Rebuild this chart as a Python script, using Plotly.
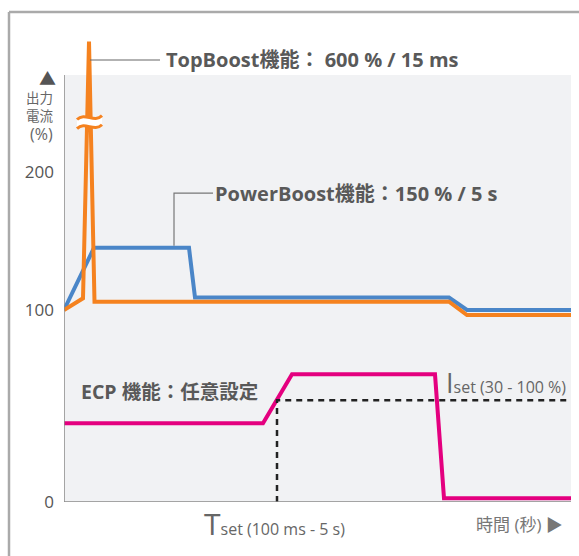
import plotly.graph_objects as go

# ---- data (values in %; time axis is schematic, arbitrary units) ----
pb_t = [0, 30, 125, 131, 385, 403, 507]
pb_v = [100, 145, 145, 109, 109, 100, 100]

tb_t = [0, 19, 25, 30.5, 385, 403, 507]
tb_v = [100, 108.5, 600, 106, 106, 97.4, 97.4]

ecp_t = [0, 199, 228, 371, 380, 507]
ecp_v = [41, 41, 66.5, 66.5, 2, 2]

iset_t = [213, 213, 507]
iset_v = [0, 53, 53]

y_tick_vals = [0, 100, 200]
y_tick_text = ["0", "100", "200"]


# ---- broken y scale (schematic, as in the original) ----
def ys(v):
    if v <= 100:
        return v
    if v <= 236:
        return 100 + (v - 100) * 0.719
    return 197.8 + (v - 236) * 0.1154


def ymap(vals):
    return [ys(v) for v in vals]


# page-pixel -> paper helpers (plot area: x 64..571, y 12..502)
def px(x):
    return (x - 64) / 507.0


def py(y):
    return (502 - y) / 490.0


FONT = "'Open Sans', 'Noto Sans CJK JP', sans-serif"
TXT = "#595959"

fig = go.Figure()
fig.add_trace(go.Scatter(x=pb_t, y=ymap(pb_v), mode="lines",
                         line=dict(color="#4a86c8", width=4), hoverinfo="skip"))
fig.add_trace(go.Scatter(x=tb_t, y=ymap(tb_v), mode="lines",
                         line=dict(color="#f5821f", width=4), hoverinfo="skip"))
fig.add_trace(go.Scatter(x=ecp_t, y=ymap(ecp_v), mode="lines",
                         line=dict(color="#e4007f", width=4), hoverinfo="skip"))
fig.add_trace(go.Scatter(x=iset_t, y=ymap(iset_v), mode="lines",
                         line=dict(color="#222222", width=2.5, dash="6px,5px"),
                         hoverinfo="skip"))

shapes = []
shapes.append(dict(type="rect", xref="x", yref="y", x0=0, x1=507, y0=0, y1=222.4,
                   fillcolor="#f1f2f4", line=dict(width=0), layer="below"))
shapes.append(dict(type="line", xref="x", yref="y", x0=0, x1=0, y0=0, y1=222.4,
                   line=dict(color="#8a8a8a", width=1.5)))
shapes.append(dict(type="line", xref="x", yref="y", x0=0, x1=507, y0=0, y1=0,
                   line=dict(color="#8a8a8a", width=1.5)))
shapes.append(dict(type="line", xref="paper", yref="paper", x0=px(9), x1=px(9),
                   y0=py(12), y1=py(570), line=dict(color="#aaaaaa", width=2.5)))
shapes.append(dict(type="line", xref="paper", yref="paper", x0=px(9), x1=px(590),
                   y0=py(12), y1=py(12), line=dict(color="#aaaaaa", width=2.5)))
# break mark on spike
shapes.append(dict(type="path", xref="x", yref="y",
                   path="M 13,199.3 C 21,203.3 30,197.3 38,201.3 L 38,196.6 C 30,192.6 21,198.6 13,194.6 Z",
                   fillcolor="white", line=dict(width=0)))
for yy in (200.2, 195.5):
    shapes.append(dict(type="path", xref="x", yref="y",
                       path=f"M 13,{yy-1} C 21,{yy+3} 30,{yy-3} 38,{yy+1}",
                       line=dict(color="#f5821f", width=3)))
# leader lines
shapes.append(dict(type="line", xref="x", yref="y", x0=26, x1=96, y0=230.2, y1=230.2,
                   line=dict(color="#666666", width=1.2)))
shapes.append(dict(type="path", xref="x", yref="y",
                   path="M 110,133.5 L 110,160.9 L 149,160.9",
                   line=dict(color="#777777", width=1.2)))

ann = []
ann.append(dict(x=px(164), y=py(60), text="<b>TopBoost機能： 600 % / 15 ms</b>",
                xanchor="left", yanchor="middle", font=dict(size=20, color=TXT)))
ann.append(dict(x=px(213), y=py(193), text="<b>PowerBoost機能：150 % / 5 s</b>",
                xanchor="left", yanchor="middle", font=dict(size=20, color=TXT)))
ann.append(dict(x=px(79), y=py(391), text="<b>ECP 機能：任意設定</b>",
                xanchor="left", yanchor="middle", font=dict(size=19.5, color=TXT)))
ann.append(dict(x=px(444), y=py(382),
                text="<span style='font-size:27px'>I</span>set (30 - 100 %)",
                xanchor="left", yanchor="middle", font=dict(size=16, color="#666666")))
ann.append(dict(x=px(202), y=py(523),
                text="<span style='font-size:30px'>T</span>set (100 ms - 5 s)",
                xanchor="left", yanchor="middle", font=dict(size=16, color="#666666")))
ann.append(dict(x=px(474), y=py(524), text="時間 (秒) ▶",
                xanchor="left", yanchor="middle", font=dict(size=17, color="#777777")))
# y-axis title
ann.append(dict(x=px(47.5), y=py(78.5), text="▲", xanchor="center", yanchor="middle",
                font=dict(size=17, color="#555555")))
ann.append(dict(x=px(39.5), y=py(107), text="出力<br>電流", xanchor="center",
                yanchor="middle", font=dict(size=13.5, color="#666666")))
ann.append(dict(x=px(41), y=py(134), text="(%)", xanchor="center", yanchor="middle",
                font=dict(size=16, color="#666666")))
for a in ann:
    a["xref"] = "paper"
    a["yref"] = "paper"
    a["showarrow"] = False

fig.update_layout(
    width=579, height=556,
    margin=dict(l=64, r=8, t=12, b=54),
    paper_bgcolor="white", plot_bgcolor="white",
    showlegend=False,
    font=dict(family=FONT, color=TXT),
    shapes=shapes, annotations=ann,
    xaxis=dict(range=[0, 507], showgrid=False, zeroline=False, showticklabels=False,
               showline=False, fixedrange=True),
    yaxis=dict(range=[0, 255.2], showgrid=False, zeroline=False, showline=False,
               tickvals=ymap(y_tick_vals), ticktext=y_tick_text,
               ticklabelstandoff=9, ticks="",
               tickfont=dict(size=17, color="#555555", family=FONT), fixedrange=True),
)

fig.write_html("out.html", config={"displayModeBar": False},
               post_script="document.body.style.margin='0';")
